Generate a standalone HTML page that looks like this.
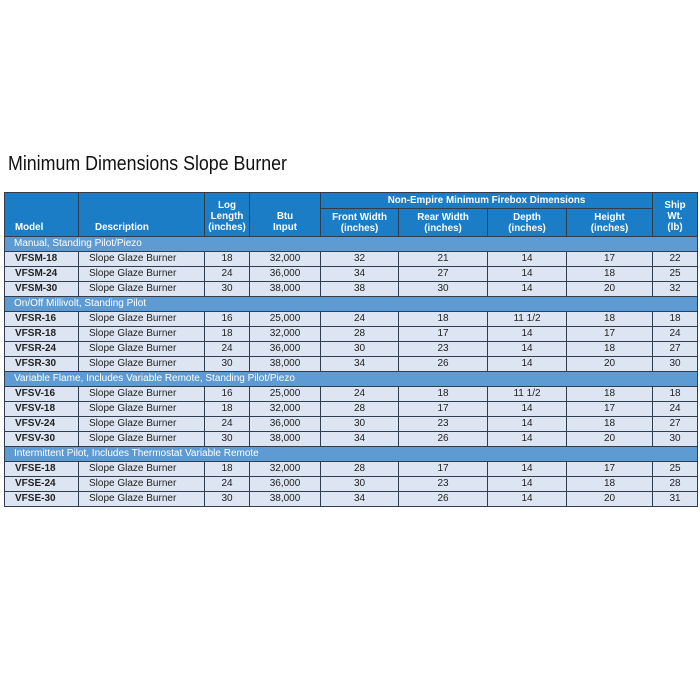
<!DOCTYPE html>
<html><head><style>
body{margin:0;width:700px;height:700px;background:#fff;position:relative;font-family:"Liberation Sans",Arial,sans-serif;overflow:hidden}
.title{position:absolute;left:8px;top:153px;font-size:20px;color:#111;transform:scaleX(0.89);transform-origin:left top;white-space:nowrap}
table{position:absolute;left:4px;top:192px;border-collapse:collapse;width:693px;table-layout:fixed;font-size:10px}
td,th{border:1px solid #2f3d4f;padding:0;height:14px;line-height:14px}
th{background:#1b7dc6;color:#fff;font-weight:bold;line-height:11px;font-size:9.8px}
td{background:#dce5f1;color:#222;text-align:center}
td.m{text-align:left;padding-left:10px;font-weight:bold}
td.d{text-align:left;padding-left:10px}
td.s{background:#5e9bd3;color:#fff;text-align:left;padding-left:9px}
</style></head><body>
<div class="title">Minimum Dimensions Slope Burner</div>
<table>
<colgroup><col style="width:74px"><col style="width:126px"><col style="width:45px"><col style="width:71px"><col style="width:78px"><col style="width:89px"><col style="width:79px"><col style="width:86px"><col style="width:45px"></colgroup>
<tr style="height:16px"><th rowspan="2" style="text-align:left;padding-left:10px;vertical-align:bottom;padding-bottom:3px">Model</th><th rowspan="2" style="text-align:left;padding-left:16px;vertical-align:bottom;padding-bottom:3px">Description</th><th rowspan="2" style="vertical-align:bottom;padding-bottom:3px">Log<br>Length<br>(inches)</th><th rowspan="2" style="vertical-align:bottom;padding-bottom:3px">Btu<br>Input</th><th colspan="4" style="height:15px">Non-Empire Minimum Firebox Dimensions</th><th rowspan="2" style="vertical-align:bottom;padding-bottom:3px">Ship<br>Wt.<br>(lb)</th></tr>
<tr style="height:28px"><th>Front Width<br>(inches)</th><th>Rear Width<br>(inches)</th><th>Depth<br>(inches)</th><th>Height<br>(inches)</th></tr>
<tr><td class="s" colspan="9">Manual, Standing Pilot/Piezo</td></tr>
<tr><td class="m">VFSM-18</td><td class="d">Slope Glaze Burner</td><td>18</td><td>32,000</td><td>32</td><td>21</td><td>14</td><td>17</td><td>22</td></tr>
<tr><td class="m">VFSM-24</td><td class="d">Slope Glaze Burner</td><td>24</td><td>36,000</td><td>34</td><td>27</td><td>14</td><td>18</td><td>25</td></tr>
<tr><td class="m">VFSM-30</td><td class="d">Slope Glaze Burner</td><td>30</td><td>38,000</td><td>38</td><td>30</td><td>14</td><td>20</td><td>32</td></tr>
<tr><td class="s" colspan="9">On/Off Millivolt, Standing Pilot</td></tr>
<tr><td class="m">VFSR-16</td><td class="d">Slope Glaze Burner</td><td>16</td><td>25,000</td><td>24</td><td>18</td><td>11 1/2</td><td>18</td><td>18</td></tr>
<tr><td class="m">VFSR-18</td><td class="d">Slope Glaze Burner</td><td>18</td><td>32,000</td><td>28</td><td>17</td><td>14</td><td>17</td><td>24</td></tr>
<tr><td class="m">VFSR-24</td><td class="d">Slope Glaze Burner</td><td>24</td><td>36,000</td><td>30</td><td>23</td><td>14</td><td>18</td><td>27</td></tr>
<tr><td class="m">VFSR-30</td><td class="d">Slope Glaze Burner</td><td>30</td><td>38,000</td><td>34</td><td>26</td><td>14</td><td>20</td><td>30</td></tr>
<tr><td class="s" colspan="9">Variable Flame, Includes Variable Remote, Standing Pilot/Piezo</td></tr>
<tr><td class="m">VFSV-16</td><td class="d">Slope Glaze Burner</td><td>16</td><td>25,000</td><td>24</td><td>18</td><td>11 1/2</td><td>18</td><td>18</td></tr>
<tr><td class="m">VFSV-18</td><td class="d">Slope Glaze Burner</td><td>18</td><td>32,000</td><td>28</td><td>17</td><td>14</td><td>17</td><td>24</td></tr>
<tr><td class="m">VFSV-24</td><td class="d">Slope Glaze Burner</td><td>24</td><td>36,000</td><td>30</td><td>23</td><td>14</td><td>18</td><td>27</td></tr>
<tr><td class="m">VFSV-30</td><td class="d">Slope Glaze Burner</td><td>30</td><td>38,000</td><td>34</td><td>26</td><td>14</td><td>20</td><td>30</td></tr>
<tr><td class="s" colspan="9">Intermittent Pilot, Includes Thermostat Variable Remote</td></tr>
<tr><td class="m">VFSE-18</td><td class="d">Slope Glaze Burner</td><td>18</td><td>32,000</td><td>28</td><td>17</td><td>14</td><td>17</td><td>25</td></tr>
<tr><td class="m">VFSE-24</td><td class="d">Slope Glaze Burner</td><td>24</td><td>36,000</td><td>30</td><td>23</td><td>14</td><td>18</td><td>28</td></tr>
<tr><td class="m">VFSE-30</td><td class="d">Slope Glaze Burner</td><td>30</td><td>38,000</td><td>34</td><td>26</td><td>14</td><td>20</td><td>31</td></tr>
</table>
</body></html>
